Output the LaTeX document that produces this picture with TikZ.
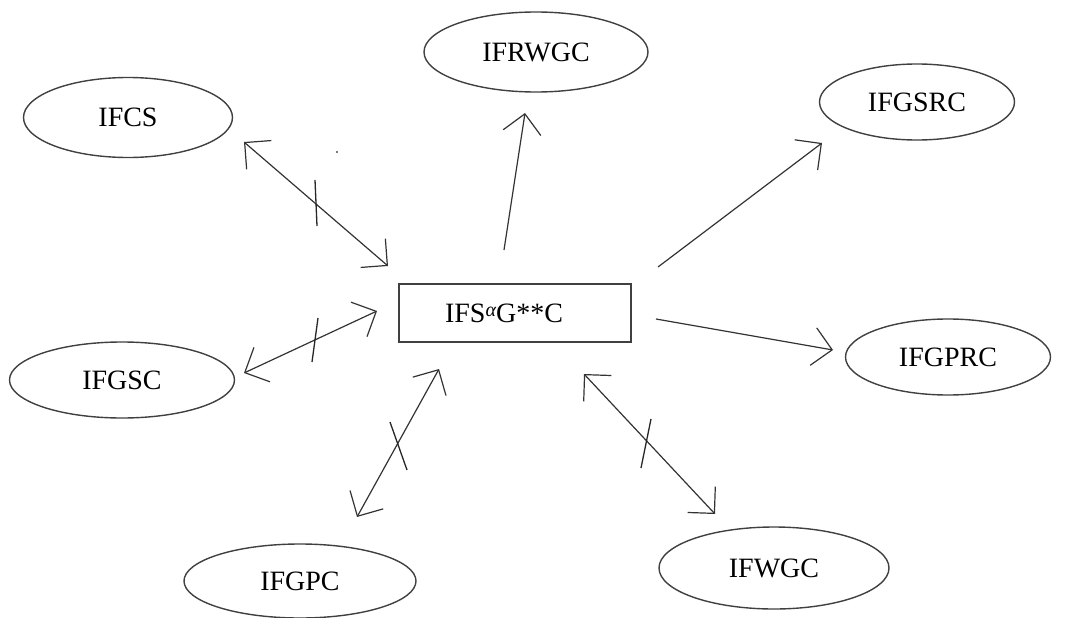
\documentclass[tikz,border=0pt]{standalone}
\usepackage{fontspec}
\setmainfont{Liberation Serif}
\usetikzlibrary{shapes.geometric,arrows.meta}
\tikzset{vb/.tip={Straight Barb[length=19pt,width=38pt,line width=1.2pt]}}
\begin{document}
\begin{tikzpicture}[x=1pt,y=-1pt,
  every node/.style={font=\fontsize{28}{32}\selectfont, text=black},
  oval/.style={ellipse, draw=black!75, line width=1.4pt, inner sep=0pt},
  bigbox/.style={rectangle, draw=black!75, line width=1.8pt, inner sep=0pt, minimum width=232pt, minimum height=58pt},
  conn/.style={draw=black!80, line width=1.2pt, line join=miter},
  tick/.style={draw=black!85, line width=1.3pt}]
\useasboundingbox (0,0) rectangle (1071,618);
% nodes
\node[bigbox] (box) at (515,313) {IFS\raisebox{6pt}{\fontsize{20}{20}\selectfont\itshape α}G**C\hspace*{22pt}};
\node[oval, minimum width=209pt, minimum height=80pt] (ifcs) at (128,117.5) {IFCS};
\node[oval, minimum width=224pt, minimum height=80pt] (ifrwgc) at (536,52) {IFRWGC};
\node[oval, minimum width=195pt, minimum height=76pt] (ifgsrc) at (917,102) {IFGSRC};
\node[oval, minimum width=225pt, minimum height=76pt] (ifgsc) at (122,380) {IFGSC};
\node[oval, minimum width=205pt, minimum height=76pt] (ifgprc) at (948,357) {IFGPRC};
\node[oval, minimum width=232pt, minimum height=74pt] (ifgpc) at (300,581) {IFGPC};
\node[oval, minimum width=230pt, minimum height=82pt] (ifwgc) at (774,568) {IFWGC};
% connectors
\draw[conn, vb-vb] ([shift={(116,24.5)}]ifcs.center) -- ([shift={(-127,-47)}]box.center);
\draw[conn, vb-vb] ([shift={(122,-7)}]ifgsc.center) -- ([shift={(-138,-2)}]box.center);
\draw[conn, vb-vb] ([shift={(57,-64)}]ifgpc.center) -- ([shift={(-76,56)}]box.center);
\draw[conn, vb-vb] ([shift={(-59,-54)}]ifwgc.center) -- ([shift={(69,61)}]box.center);
\draw[conn, -vb] ([shift={(-11,-63)}]box.center) -- ([shift={(-11,61)}]ifrwgc.center);
\draw[conn, -vb] ([shift={(143,-46)}]box.center) -- ([shift={(-95,41)}]ifgsrc.center);
\draw[conn, -vb] ([shift={(141,6)}]box.center) -- ([shift={(-115,-7)}]ifgprc.center);
% tick marks
\draw[tick] (315,180) -- (317,226);
\draw[tick] (318,318) -- (312,362);
\draw[tick] (390,422) -- (407,470);
\draw[tick] (651,419) -- (641,468);
% stray dot
\fill[black!70] (337,152) circle (1.2pt);
\end{tikzpicture}
\end{document}
